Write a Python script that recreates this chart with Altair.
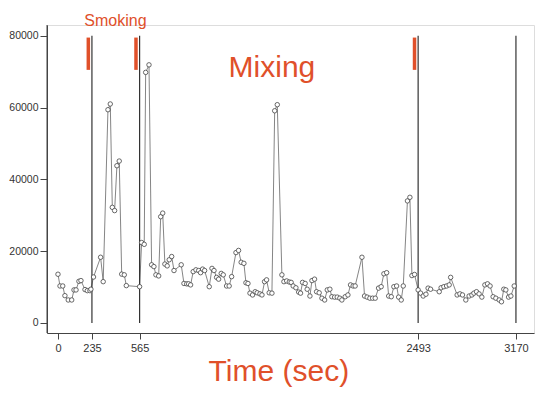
import altair as alt
import pandas as pd

times = [0, 14, 33, 48, 71, 95, 111, 125, 145, 159, 187, 203, 221, 228, 246, 295, 313,
         346, 362, 376, 392, 408, 424, 441, 459, 473, 565, 579, 597, 607, 630, 648, 664,
         678, 697, 711, 725, 740, 756, 770, 787, 803, 853, 872, 891, 904, 918, 936, 955,
         974, 987, 1001, 1015, 1047, 1066, 1080, 1098, 1112, 1130, 1144, 1167, 1185, 1202,
         1232, 1250, 1268, 1287, 1301, 1315, 1329, 1347, 1365, 1379, 1398, 1412, 1430, 1444,
         1462, 1481, 1500, 1518, 1550, 1564, 1583, 1601, 1614, 1628, 1647, 1666, 1679, 1693,
         1711, 1725, 1744, 1758, 1776, 1790, 1808, 1827, 1846, 1864, 1882, 1896, 1915, 1933,
         1951, 1965, 1988, 2007, 2025, 2043, 2057, 2104, 2122, 2140, 2159, 2178, 2196, 2219,
         2237, 2256, 2275, 2289, 2307, 2325, 2344, 2358, 2376, 2390, 2419, 2436, 2450, 2468,
         2493, 2510, 2528, 2547, 2562, 2579, 2639, 2652, 2671, 2690, 2708, 2718, 2763, 2782,
         2800, 2823, 2846, 2865, 2879, 2897, 2915, 2934, 2955, 2973, 2991, 3012, 3031, 3054,
         3070, 3086, 3100, 3119, 3135, 3158]
values = [13570, 10300, 10300, 7600, 6400, 6400, 9200, 9200, 11600, 11800, 9300, 9000, 9000,
          9400, 12800, 18300, 11500, 59400, 61000, 32200, 31300, 43800, 45100, 13600, 13400,
          10400, 10100, 22400, 21900, 69800, 71900, 16200, 15700, 13400, 13100, 29600, 30600,
          16400, 15900, 17600, 18500, 14600, 16200, 11000, 10900, 10900, 10600, 14300, 14800,
          14600, 14000, 15000, 14600, 10100, 15200, 14600, 12700, 12200, 13800, 13400, 10300,
          10300, 12900, 19600, 20200, 16900, 16600, 11200, 11000, 8300, 7800, 8700, 8400, 8100,
          7800, 11500, 12000, 8400, 8300, 59100, 60800, 13400, 11500, 11700, 11400, 11300,
          10300, 9800, 8600, 8300, 11300, 11000, 9400, 7500, 11800, 12200, 8700, 8400, 6900,
          6400, 9200, 9400, 7300, 7200, 7200, 6900, 6400, 7300, 7800, 10600, 10300, 10300,
          18300, 7500, 7200, 6900, 6900, 6900, 9700, 10100, 13700, 14000, 7500, 7300, 10100,
          10300, 7200, 6400, 10300, 34000, 35000, 13200, 13500, 9200, 8300, 7500, 8000, 9700,
          9400, 8700, 9800, 10100, 10300, 10600, 12700, 7800, 8100, 7800, 6400, 7500, 7800,
          8300, 8700, 8100, 7200, 10600, 10900, 10300, 7300, 6900, 6400, 5900, 9400, 9200,
          7200, 7500, 10300]

event_times = [235, 565, 2493, 3170]
marker_times = [210, 540, 2468]
x_ticks = [0, 235, 565, 2493, 3170]
y_ticks = [0, 10000, 20000, 30000, 40000, 50000, 60000, 70000, 80000]
x_domain = [-76, 3295]
y_domain = [-2800, 83000]

labels_text = ["Smoking", "Mixing"]
labels_t = [398, 1481]
labels_v = [84250, 71000]
labels_size = [16, 30]

FONT = "Liberation Sans"
RED = "#e0502a"

df = pd.DataFrame({"t": times, "v": values})
ev = pd.DataFrame({"t": event_times, "y0": [0] * 4, "y1": [80000] * 4})
mk = pd.DataFrame({"t": marker_times, "y0": [70500] * 3, "y1": [79500] * 3})
lab = pd.DataFrame({"text": labels_text, "t": labels_t, "v": labels_v, "size": labels_size})
ttl = pd.DataFrame({"text": ["Time (sec)"], "t": [1529], "v": [-13600]})
yline = pd.DataFrame({"t": [x_domain[0]], "y0": [y_domain[0]], "y1": [y_domain[1]]})

xs = alt.Scale(domain=x_domain, nice=False, zero=False)
ys = alt.Scale(domain=y_domain, nice=False, zero=False)

xax = alt.Axis(values=x_ticks, format="d", title=None, grid=False, tickSize=6, labelPadding=3,
               labelFont=FONT, labelFontSize=11, labelColor="#333", domain=True,
               domainColor="#444", domainWidth=1, tickColor="#444", labelFlush=False)
yax = alt.Axis(values=y_ticks, format="d", title=None, grid=False, tickSize=7, labelPadding=2,
               labelFont=FONT, labelFontSize=10.5, labelColor="#333", domain=True,
               domainColor="#444", domainWidth=1, tickColor="#444", labelFlush=False,
               labelExpr="datum.value % 20000 == 0 ? datum.label : ''")

base = alt.Chart(df)
line = base.mark_line(color="#777", strokeWidth=0.9).encode(
    x=alt.X("t:Q", scale=xs, axis=xax),
    y=alt.Y("v:Q", scale=ys, axis=yax),
)
pts = base.mark_point(shape="circle", filled=True, fill="white", stroke="#444",
                      strokeWidth=0.8, size=20, opacity=1).encode(
    x=alt.X("t:Q", scale=xs),
    y=alt.Y("v:Q", scale=ys),
)
rules = alt.Chart(ev).mark_rule(color="#333", strokeWidth=1.2).encode(
    x=alt.X("t:Q", scale=xs),
    y=alt.Y("y0:Q", scale=ys),
    y2="y1:Q",
)
yaxis_line = alt.Chart(yline).mark_rule(color="#444", strokeWidth=1).encode(
    x=alt.X("t:Q", scale=xs),
    y=alt.Y("y0:Q", scale=ys),
    y2="y1:Q",
)
marks = alt.Chart(mk).mark_rule(color=RED, strokeWidth=3.5).encode(
    x=alt.X("t:Q", scale=xs),
    y=alt.Y("y0:Q", scale=ys),
    y2="y1:Q",
)
texts = alt.Chart(lab).mark_text(color=RED, font=FONT, baseline="middle", align="center").encode(
    x=alt.X("t:Q", scale=xs),
    y=alt.Y("v:Q", scale=ys),
    text="text:N",
    size=alt.Size("size:Q", scale=None, legend=None),
)
title = alt.Chart(ttl).mark_text(color=RED, font=FONT, fontSize=30, baseline="middle",
                                 align="center").encode(
    x=alt.X("t:Q", scale=xs),
    y=alt.Y("v:Q", scale=ys),
    text="text:N",
)

chart = alt.layer(line, rules, yaxis_line, marks, pts, texts, title).properties(
    width=487, height=308,
    autosize=alt.AutoSizeParams(type="none"),
    padding={"left": 39, "top": 17, "right": 8, "bottom": 62},
).configure_view(stroke=None).configure(background="white")

chart.save("out.html", embed_options={"renderer": "svg", "actions": False})
